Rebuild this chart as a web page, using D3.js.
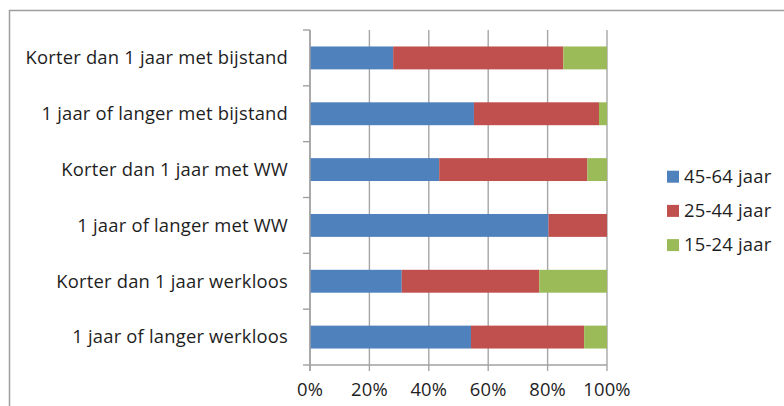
<!DOCTYPE html>
<html><head><meta charset="utf-8">
<script src="https://cdn.jsdelivr.net/npm/d3@7"></script>
<style>body{margin:0;background:#fff}svg{display:block}</style>
</head><body>
<svg id="c" width="784" height="406"></svg>
<script>
const categories = [
  "Korter dan 1 jaar met bijstand",
  "1 jaar of langer met bijstand",
  "Korter dan 1 jaar met WW",
  "1 jaar of langer met WW",
  "Korter dan 1 jaar werkloos",
  "1 jaar of langer werkloos"
];
const seriesNames = ["45-64 jaar", "25-44 jaar", "15-24 jaar"];
const age4564 = [28.0, 55.2, 43.5, 80.3, 30.9, 54.2];
const age2544 = [57.3, 42.1, 49.9, 19.7, 46.3, 38.1];
const age1524 = [14.7, 2.7, 6.6, 0.0, 22.8, 7.7];
const xTicks = [0, 20, 40, 60, 80, 100];
const colors = ["#4F81BD", "#C0504D", "#9BBB59"];

const svg = d3.select("#c");
const font = "'Open Sans', sans-serif";
const fs = 18.4, ls = 0.2;
const L = 310, R = 607, T = 30, B = 365;

// outer frame
svg.append("path").attr("d", `M9.5,406 V10.5 H784`).attr("fill","none")
  .attr("stroke","#9e9e9e").attr("stroke-width",1.5);

const x = d3.scaleLinear().domain([0,100]).range([L,R]);
const y = d3.scaleBand().domain(categories).range([T,B]).paddingInner(0.59).paddingOuter(0.295);
const yb = d3.scaleLinear().domain([0,categories.length]).range([T,B]);

// gridlines
svg.append("g").selectAll("line").data(xTicks).join("line")
  .attr("x1",d=>x(d)).attr("x2",d=>x(d)).attr("y1",T).attr("y2",B+6)
  .attr("stroke","#a6a6a6").attr("stroke-width",1.4);

// data
const table = categories.map((c,i)=>({cat:c, "45-64 jaar":age4564[i], "25-44 jaar":age2544[i], "15-24 jaar":age1524[i]}));
const stacked = d3.stack().keys(seriesNames)(table);
svg.append("g").selectAll("g").data(stacked).join("g")
  .attr("fill",(d,i)=>colors[i])
  .selectAll("rect").data(d=>d).join("rect")
  .attr("x",d=>x(d[0])).attr("width",d=>Math.max(0,x(d[1])-x(d[0])))
  .attr("y",d=>y(d.data.cat)).attr("height",y.bandwidth());

// axes
const ax = svg.append("g").attr("stroke","#a0a0a0").attr("stroke-width",1.4);
ax.append("line").attr("x1",L).attr("x2",R).attr("y1",B).attr("y2",B);
ax.append("line").attr("x1",L).attr("x2",L).attr("y1",T).attr("y2",B+6);
ax.selectAll("line.t").data(d3.range(categories.length+1)).join("line").attr("class","t")
  .attr("x1",L-7).attr("x2",L).attr("y1",d=>yb(d)).attr("y2",d=>yb(d));

// category labels
svg.append("g").selectAll("text").data(categories).join("text")
  .attr("x",L-22).attr("y",d=>y(d)+y.bandwidth()/2+6.3)
  .attr("text-anchor","end").attr("font-family",font).attr("font-size",fs)
  .attr("letter-spacing",ls).attr("fill","#1e1e1e").text(d=>d);

// x labels
svg.append("g").selectAll("text").data(xTicks).join("text")
  .attr("x",d=>x(d)).attr("y",396).attr("text-anchor","middle")
  .attr("font-family",font).attr("font-size",fs).attr("letter-spacing",ls).attr("fill","#1e1e1e")
  .text(d=>d+"%");

// legend
const lg = svg.append("g").selectAll("g").data(seriesNames).join("g")
  .attr("transform",(d,i)=>`translate(667,${176.7+i*34.2})`);
lg.append("rect").attr("x",0).attr("y",-6).attr("width",12).attr("height",12).attr("fill",(d,i)=>colors[i]);
lg.append("text").attr("x",17).attr("y",6).attr("font-family",font).attr("font-size",fs)
  .attr("letter-spacing",ls).attr("fill","#1e1e1e").text(d=>d);
</script>
</body></html>
